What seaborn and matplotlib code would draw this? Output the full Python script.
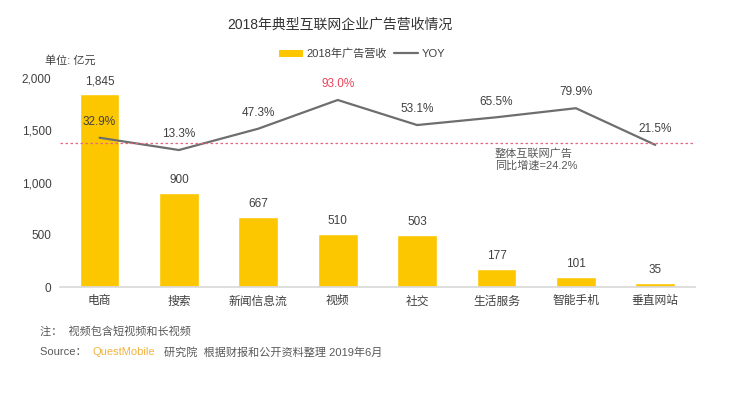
import numpy as np
import pandas as pd
import matplotlib.pyplot as plt
import seaborn as sns
from matplotlib.patches import Patch
from matplotlib.lines import Line2D

# data
categories = ["电商", "搜索", "新闻信息流", "视频", "社交", "生活服务", "智能手机", "垂直网站"]
revenue = [1845, 900, 667, 510, 503, 177, 101, 35]
yoy = [32.9, 13.3, 47.3, 93.0, 53.1, 65.5, 79.9, 21.5]
overall_yoy = 24.2

df = pd.DataFrame({"category": categories, "revenue": revenue, "yoy": yoy})
df["pos"] = range(len(df))

sns.set_theme(style="white")
plt.rcParams["font.family"] = ["Liberation Sans", "Noto Sans CJK SC", "DejaVu Sans"]

yellow = "#FDC700"
grey = "#6E6E6E"
text_c = "#404040"

fig = plt.figure(figsize=(7.3, 3.96), dpi=100)
ax = fig.add_axes([0.082, 0.275, 0.870, 0.528])

sns.barplot(data=df, x="category", y="revenue", color=yellow, width=0.5,
            saturation=1, ax=ax)
ax.set_ylim(0, 2000)
ax.set_xlim(-0.5, len(df) - 0.5)
ax.set_yticks([0, 500, 1000, 1500, 2000])
ax.set_yticklabels(["0", "500", "1,000", "1,500", "2,000"])
ax.set_xlabel("")
ax.set_ylabel("")
ax.tick_params(axis="both", length=0, labelsize=8.5, colors=text_c, pad=6)
for s in ["top", "right", "left"]:
    ax.spines[s].set_visible(False)
ax.spines["bottom"].set_color("#D9D9D9")

for p, v in zip(df["pos"], df["revenue"]):
    ax.annotate(f"{v:,}", (p, v), xytext=(0, 5), textcoords="offset points",
                ha="center", va="bottom", fontsize=8.5, color=text_c)

# YOY on a hidden twin axis
ax2 = ax.twinx()
sns.lineplot(data=df, x="pos", y="yoy", color=grey, linewidth=1.6, ax=ax2)
ax2.set_ylim(-205, 128)
ax2.set_xlim(-0.5, len(df) - 0.5)
ax2.axis("off")
ax2.axhline(overall_yoy, color="#E5677A", linestyle=(0, (2, 2)), linewidth=0.9)

for p, v in zip(df["pos"], df["yoy"]):
    c = "#E8435A" if v == max(yoy) else text_c
    ax2.annotate(f"{v:.1f}%", (p, v), xytext=(0, 7), textcoords="offset points",
                 ha="center", va="bottom", fontsize=8.5, color=c)

ax2.text(4.98, overall_yoy - 8, "整体互联网广告\n同比增速=24.2%", ha="left", va="top",
         fontsize=8, color="#595959", linespacing=1.25)

fig.text(0.465, 0.937, "2018年典型互联网企业广告营收情况", ha="center", va="center",
         fontsize=10, color="#333333")
fig.text(0.097, 0.846, "单位: 亿元", ha="center", va="center", fontsize=8, color=text_c)

handles = [Patch(facecolor=yellow, edgecolor="none"),
           Line2D([0], [0], color=grey, linewidth=1.6)]
fig.legend(handles, ["2018年广告营收", "YOY"], loc="center", bbox_to_anchor=(0.496, 0.864),
           ncol=2, frameon=False, fontsize=8, handlelength=2.2, handleheight=0.6,
           columnspacing=0.6, handletextpad=0.3, labelcolor=text_c)

fig.text(0.055, 0.162, "注：  视频包含短视频和长视频", ha="left", va="center",
         fontsize=8, color="#595959")
fig.text(0.055, 0.111, "Source：  ", ha="left", va="center", fontsize=8, color="#595959")
fig.text(0.127, 0.111, "QuestMobile", ha="left", va="center", fontsize=8, color="#F2B33D")
fig.text(0.224, 0.111, "研究院  根据财报和公开资料整理 2019年6月", ha="left", va="center",
         fontsize=8, color="#595959")

fig.savefig("out.png", dpi=100, facecolor="white")
plt.close(fig)
